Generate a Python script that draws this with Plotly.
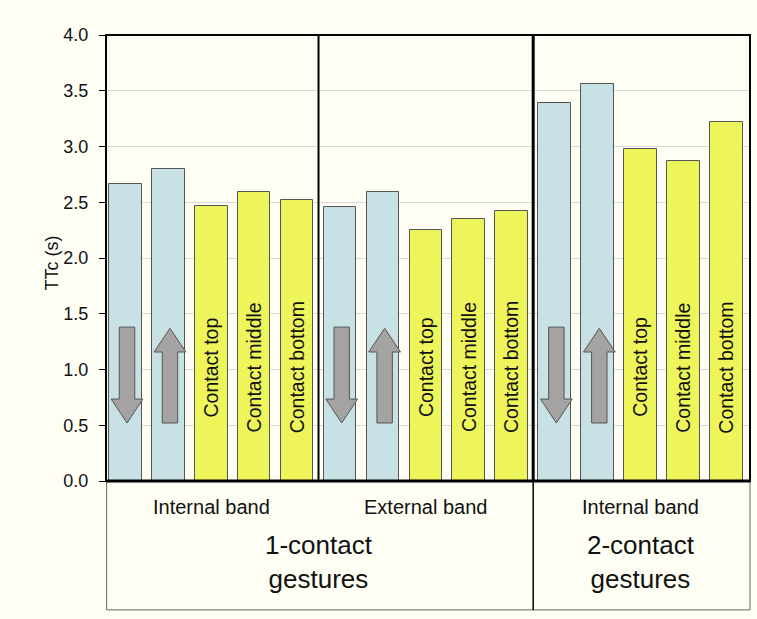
import plotly.graph_objects as go

# ---- data ----
gesture_labels = ["Down", "Up", "Contact top", "Contact middle", "Contact bottom"]
band_labels = ["Internal band", "External band", "Internal band"]
contact_labels = ["1-contact<br>gestures", "2-contact<br>gestures"]
ttc_1c_internal = [2.66, 2.80, 2.47, 2.59, 2.52]
ttc_1c_external = [2.46, 2.59, 2.25, 2.35, 2.42]
ttc_2c_internal = [3.39, 3.56, 2.98, 2.87, 3.22]
y_ticks = [0.0, 0.5, 1.0, 1.5, 2.0, 2.5, 3.0, 3.5, 4.0]
y_title = "TTc (s)"

# ---- styles ----
BG = "#FEFEF5"
BLUE = "#C8E1E4"
YELLOW = "#EEF55A"
ARROW = "#A5A2A2"
OUTLINE = "#555555"
FONT = "Liberation Sans, Arial, sans-serif"

series = [ttc_1c_internal, ttc_1c_external, ttc_2c_internal]
labels, values = [], []
for s in series:
    labels += gesture_labels
    values += s
xs = list(range(len(values)))
colors = [BLUE if l in ("Down", "Up") else YELLOW for l in labels]

fig = go.Figure()
fig.add_trace(go.Bar(
    x=xs, y=values, width=0.76,
    marker=dict(color=colors, line=dict(color=OUTLINE, width=1)),
    hovertext=labels, showlegend=False,
))

shapes = []
annotations = []

# arrows and rotated labels inside bars
for i, l in enumerate(labels):
    if l in ("Down", "Up"):
        c = i + 0.04
        sw, hw = 0.18, 0.37
        if l == "Down":
            top, hb, tip = 1.38, 0.735, 0.52
        else:
            top, hb, tip = 0.52, 1.157, 1.37
        path = (f"M {c-sw},{top} L {c+sw},{top} L {c+sw},{hb} L {c+hw},{hb} "
                f"L {c},{tip} L {c-hw},{hb} L {c-sw},{hb} Z")
        shapes.append(dict(type="path", path=path, xref="x", yref="y",
                           fillcolor=ARROW, line=dict(color=OUTLINE, width=1), layer="above"))
    else:
        annotations.append(dict(x=i, y=1.02, xref="x", yref="y", text=l, textangle=-90,
                                showarrow=False, font=dict(family=FONT, size=19.5, color="#111111")))

box_bottom = -0.289
# frame
shapes.append(dict(type="rect", xref="paper", yref="paper", x0=0, x1=1, y0=0, y1=1,
                   line=dict(color="black", width=2), layer="above"))
shapes.append(dict(type="line", xref="paper", yref="paper", x0=0, x1=1, y0=0, y1=0,
                   line=dict(color="black", width=3), layer="above"))
for xd, w in ((4.5, 2), (9.5, 3)):
    shapes.append(dict(type="line", xref="x", yref="paper", x0=xd, x1=xd, y0=0, y1=1,
                       line=dict(color="black", width=w), layer="above"))
# bottom label box
shapes.append(dict(type="rect", xref="paper", yref="paper", x0=0.001, x1=1, y0=box_bottom, y1=0,
                   line=dict(color="#666666", width=1), layer="below"))
shapes.append(dict(type="line", xref="x", yref="paper", x0=9.5, x1=9.5, y0=box_bottom, y1=0,
                   line=dict(color="black", width=1.5)))

for gi, b in enumerate(band_labels):
    annotations.append(dict(x=gi * 5 + 2, y=-0.0594, xref="x", yref="paper", text=b,
                            showarrow=False, yanchor="middle",
                            font=dict(family=FONT, size=20, color="#111111")))
annotations.append(dict(x=4.5, y=-0.181, xref="x", yref="paper", text=contact_labels[0],
                        showarrow=False, yanchor="middle",
                        font=dict(family=FONT, size=26, color="#111111")))
annotations.append(dict(x=12, y=-0.181, xref="x", yref="paper", text=contact_labels[1],
                        showarrow=False, yanchor="middle",
                        font=dict(family=FONT, size=26, color="#111111")))
annotations.append(dict(x=-0.101, y=0.49, xref="paper", yref="paper", text=y_title,
                        textangle=-90, showarrow=False,
                        font=dict(family=FONT, size=18, color="#111111")))

fig.update_layout(
    width=757, height=619,
    margin=dict(l=106, r=7, t=35, b=138),
    paper_bgcolor=BG, plot_bgcolor=BG,
    shapes=shapes, annotations=annotations,
    bargap=0,
    xaxis=dict(range=[-0.45, 14.55], showticklabels=False, showgrid=False,
               zeroline=False, ticks=""),
    yaxis=dict(range=[0, 4], tickvals=y_ticks, ticktext=[f"{v:.1f}" for v in y_ticks],
               showgrid=True, gridcolor="#D9D9D9", gridwidth=1, zeroline=False,
               ticks="outside", ticklen=6, tickcolor="black", ticklabelstandoff=7,
               tickfont=dict(family=FONT, size=18, color="#111111")),
    font=dict(family=FONT),
)

fig.write_html("out.html", config={"displayModeBar": False},
               post_script="document.body.style.margin='0';document.body.style.background='" + BG + "';")
